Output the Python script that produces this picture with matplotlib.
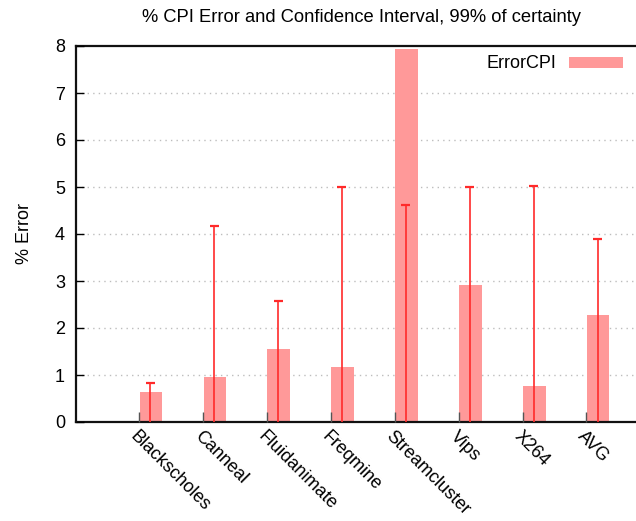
import matplotlib
matplotlib.use("Agg")
import matplotlib.pyplot as plt
import numpy as np

plt.rcParams['font.family'] = ['Liberation Sans', 'DejaVu Sans']

benchmarks = ["Blackscholes", "Canneal", "Fluidanimate", "Freqmine",
              "Streamcluster", "Vips", "X264", "AVG"]
error_cpi = [0.64, 0.95, 1.55, 1.17, 7.94, 2.91, 0.76, 2.27]
ci_low = [0, 0, 0, 0, 0, 0, 0, 0]
ci_high = [0.82, 4.18, 2.57, 5.00, 4.62, 5.01, 5.03, 3.89]
y_ticks = [0, 1, 2, 3, 4, 5, 6, 7, 8]

W, H = 636, 521
fig = plt.figure(figsize=(W / 100, H / 100), dpi=100)
ax = fig.add_axes([76 / W, 1 - 422 / H, 1 - 76 / W + 0.01, (422 - 46) / H])

x = np.arange(len(benchmarks))
bar_w = 0.35
bar_color = '#ff9999'
err_color = '#ff2a2a'

# dotted horizontal grid
for t in y_ticks[1:-1]:
    ax.axhline(t, color='#bdbdbd', lw=1.0, ls=(0, (1, 3)), zorder=0)

ax.bar(x, error_cpi, width=bar_w, color=bar_color, zorder=2, label='ErrorCPI')

# confidence interval whiskers
ax.vlines(x - 0.01, ci_low, ci_high, color=err_color, lw=1.2, zorder=3)
ax.hlines(ci_high, x - 0.01 - 0.07, x - 0.01 + 0.07, color=err_color, lw=1.6, zorder=3)

ax.set_xlim(-1.171, 7.69)
ax.set_ylim(0, 8)
ax.set_yticks(y_ticks)
ax.set_yticklabels([str(t) for t in y_ticks], fontsize=13)
ax.tick_params(axis='y', direction='in', length=6, width=1, pad=8)

tick_pos = x - 0.185
ax.set_xticks(tick_pos)
ax.set_xticklabels(benchmarks, rotation=-45, ha='left', va='top',
                   rotation_mode='anchor', fontsize=13)
ax.tick_params(axis='x', direction='in', length=7, width=1, color='#555555', pad=4)
ax.set_axisbelow(False)

for side in ('left', 'top', 'bottom'):
    ax.spines[side].set_linewidth(1.6)
    ax.spines[side].set_color('#111111')
ax.spines['right'].set_visible(False)

ax.set_ylabel('% Error', fontsize=13, labelpad=16)

fig.text(361 / W, 1 - 18 / H, '% CPI Error and Confidence Interval, 99% of certainty',
         ha='center', va='center', fontsize=13.2)

fig.legend(loc='center right', bbox_to_anchor=(623 / W, 1 - 64 / H),
           bbox_transform=fig.transFigure, frameon=False, markerfirst=False,
           fontsize=13, handlelength=3.0, handleheight=0.55, handletextpad=0.7,
           borderpad=0, borderaxespad=0)

fig.savefig('out.png', dpi=100)
